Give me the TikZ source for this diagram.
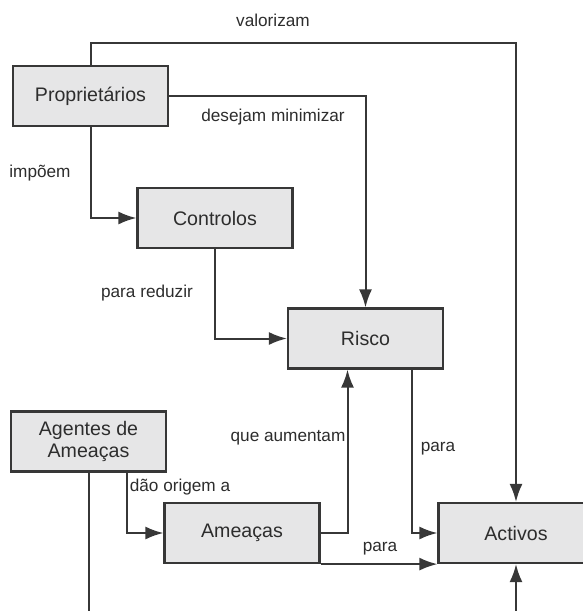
\documentclass[tikz,border=0pt]{standalone}
\usepackage{fontspec}
\setmainfont{Liberation Sans}
\definecolor{boxgray}{RGB}{230, 230, 231}
\definecolor{linegray}{RGB}{55, 55, 55}
\definecolor{textgray}{RGB}{45, 45, 45}
\usetikzlibrary{arrows.meta, calc}

\begin{document}
\begin{tikzpicture}[
  x=0.5pt, y=-0.5pt,
  riskbox/.style={draw=linegray, fill=boxgray, line width=1.1pt, minimum width=77.5pt, minimum height=30pt, inner sep=2pt, align=center, text=textgray, font=\fontsize{9.8}{11}\selectfont},
  flow/.style={draw=linegray, line width=1pt, -{Latex[length=9pt,width=6.5pt]}},
  plain/.style={draw=linegray, line width=1pt},
  lbl/.style={inner sep=1pt, text=textgray, font=\fontsize{8.6}{10}\selectfont}
]
  \useasboundingbox (0,0) rectangle (583,611);
  \clip (0,0) rectangle (583,611);

  % Boxes
  \node[riskbox] (prop) at (90.5, 96) {Propriet\'arios};
  \node[riskbox] (ctrl) at (215, 218) {Controlos};
  \node[riskbox] (risco) at (365.5, 338.5) {Risco};
  \node[riskbox] (agentes) at (88.5, 441.5) {Agentes de\\Amea\c{c}as};
  \node[riskbox] (amea) at (242, 533) {Amea\c{c}as};
  \node[riskbox] (act) at (516, 533) {Activos};

  % Helper coordinates
  \coordinate (top) at (0, 43);
  \coordinate (bot) at (0, 630);

  % Proprietarios
  \draw[flow] (prop.north) -- (prop.north |- top) -| (act.north);
  \draw[flow] (prop.east) -| (risco.north);
  \draw[flow] (prop.south) |- (ctrl.west);

  % Controlos
  \draw[flow] (ctrl.south) |- (risco.west);

  % Risco
  \draw[flow] ($(risco.south)+(46,0)$) |- (act.west);

  % Agentes de Ameacas
  \draw[flow] ($(agentes.south)+(38,0)$) |- (amea.west);
  \draw[plain] (agentes.south) -- (agentes.south |- bot);

  % Ameacas
  \draw[flow] (amea.east) -| ($(risco.south)+(-18,0)$);
  \draw[flow] (amea.south east) -- (act.south west);

  % Activos from below
  \draw[flow] (act.south |- bot) -- (act.south);

  % Labels
  \node[lbl] (lvalor) at (273, 20) {valorizam};
  \node[lbl] (ldesej) at (273, 117) {desejam minimizar};
  \node[lbl] (limpo) at (40, 173) {imp\~oem};
  \node[lbl] (lreduz) at (147, 293) {para reduzir};
  \node[lbl] (laument) at (288, 438) {que aumentam};
  \node[lbl] (lorigem) at (180, 487) {d\~ao origem a};
  \node[lbl] (lpara1) at (438, 449) {para};
  \node[lbl] (lpara2) at (380, 549) {para};
\end{tikzpicture}
\end{document}
